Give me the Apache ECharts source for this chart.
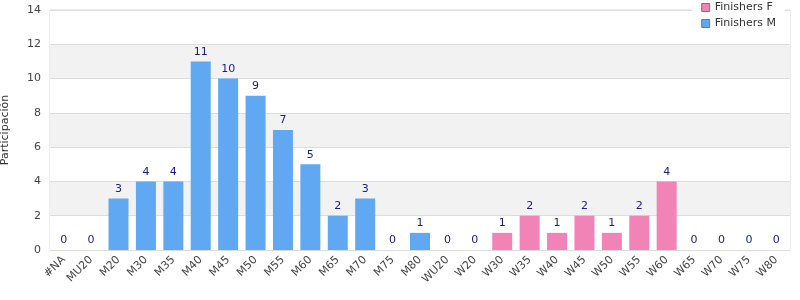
<!DOCTYPE html>
<html>
<head>
<meta charset="utf-8">
<script src="https://cdn.jsdelivr.net/npm/echarts@6/dist/echarts.min.js"></script>
<style>
  html, body { margin: 0; padding: 0; background: #fff; }
  #chart { width: 800px; height: 300px; }
</style>
</head>
<body>
<div id="chart"></div>
<script>
// categorías
var categories = ['#NA', 'MU20', 'M20', 'M30', 'M35', 'M40', 'M45', 'M50', 'M55', 'M60', 'M65', 'M70', 'M75', 'M80',
  'WU20', 'W20', 'W30', 'W35', 'W40', 'W45', 'W50', 'W55', 'W60', 'W65', 'W70', 'W75', 'W80'];
// finishers hombres ('-' = sin barra)
var finishersM = [0, 0, 3, 4, 4, 11, 10, 9, 7, 5, 2, 3, 0, 1,
  '-', '-', '-', '-', '-', '-', '-', '-', '-', '-', '-', '-', '-'];
// finishers mujeres
var finishersF = ['-', '-', '-', '-', '-', '-', '-', '-', '-', '-', '-', '-', '-', '-',
  0, 0, 1, 2, 1, 2, 1, 2, 4, 0, 0, 0, 0];

var myChart = echarts.init(document.getElementById('chart'));

var label = {
  show: true,
  position: 'top',
  color: '#1a1a8a',
  fontSize: 11,
  distance: 4
};

var option = {
  animation: false,
  textStyle: { fontFamily: 'DejaVu Sans' },
  legend: {
    orient: 'vertical',
    right: 15,
    top: 1,
    z: 10,
    backgroundColor: '#fff',
    padding: [1, 9, 2, 9],
    itemGap: 5,
    itemWidth: 8,
    itemHeight: 8,
    icon: 'rect',
    textStyle: { color: '#333', fontSize: 11 },
    data: [
      { name: 'Finishers F', itemStyle: { borderColor: '#777', borderWidth: 1 } },
      { name: 'Finishers M', itemStyle: { borderColor: '#777', borderWidth: 1 } }
    ]
  },
  grid: {
    left: 50,
    right: 10,
    top: 10,
    bottom: 50,
    outerBoundsMode: 'none',
    show: true,
    borderColor: '#dcdcdc',
    borderWidth: 1
  },
  xAxis: {
    type: 'category',
    data: categories,
    axisTick: { show: false },
    axisLine: { lineStyle: { color: '#dcdcdc' } },
    axisLabel: { color: '#444', fontSize: 11, rotate: 45, interval: 0, margin: 8 }
  },
  yAxis: {
    type: 'value',
    min: 0,
    max: 14,
    interval: 2,
    name: 'Participación',
    nameLocation: 'middle',
    nameGap: 39,
    nameTextStyle: { color: '#333', fontSize: 11 },
    axisLine: { show: false },
    axisTick: { show: false },
    axisLabel: { color: '#444', fontSize: 11, margin: 9 },
    splitLine: { lineStyle: { color: '#dcdcdc' } },
    splitArea: { show: true, areaStyle: { color: ['#ffffff', '#f2f2f2'] } }
  },
  series: [
    {
      name: 'Finishers F',
      type: 'bar',
      stack: 'total',
      barWidth: 20,
      itemStyle: { color: '#f283b6' },
      label: label,
      data: finishersF
    },
    {
      name: 'Finishers M',
      type: 'bar',
      stack: 'total',
      barWidth: 20,
      itemStyle: { color: '#60a8f2' },
      label: label,
      data: finishersM
    }
  ]
};

myChart.setOption(option);
</script>
</body>
</html>
